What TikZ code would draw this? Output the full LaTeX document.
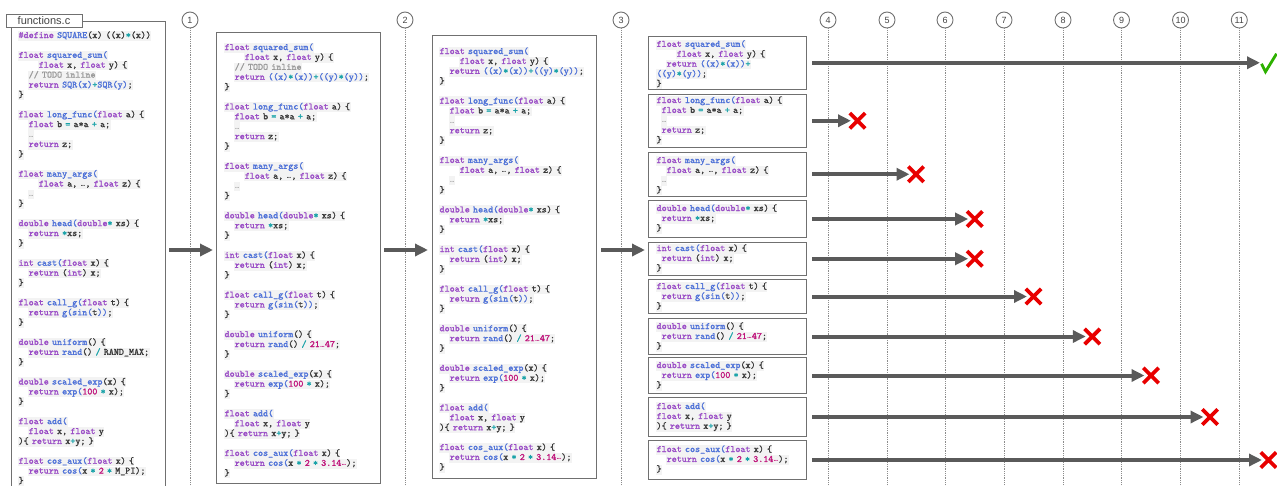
\documentclass[tikz,border=0pt]{standalone}
\usepackage{fontspec}
\setsansfont{Liberation Sans}
\newfontfamily\elfont{DejaVu Sans Mono}
\newfontfamily\codefam{Latin Modern Mono}[FakeBold=1.5]
\usetikzlibrary{arrows.meta}
\definecolor{ckwc}{HTML}{9A4DC6}
\definecolor{cfnc}{HTML}{4F72D8}
\definecolor{copc}{HTML}{17A2A8}
\definecolor{cnumc}{HTML}{C0157C}
\definecolor{ccomc}{HTML}{9A9A9A}
\definecolor{celpc}{HTML}{AAAAAA}
\definecolor{ctxt}{HTML}{3A3A3A}
\definecolor{cbg}{HTML}{F3F3F3}
\definecolor{boxc}{HTML}{707070}
\definecolor{arrc}{HTML}{5A5A5A}
\definecolor{dotc}{HTML}{8C8C8C}
\definecolor{numc}{HTML}{444444}
\definecolor{xred}{HTML}{E80000}
\definecolor{okgreen}{HTML}{2DB000}
\newlength\cw \setlength\cw{5.04pt}
\setlength\fboxsep{0.4pt}
\newcommand\ckw[1]{\textcolor{ckwc}{#1}}
\newcommand\cfn[1]{\textcolor{cfnc}{#1}}
\newcommand\cop[1]{\textcolor{copc}{#1}}
\newcommand\cnum[1]{\textcolor{cnumc}{#1}}
\newcommand\ccom[1]{\textcolor{ccomc}{#1}}
\newcommand\elp{\makebox[\cw][c]{\elfont\fontsize{7}{7}\selectfont …}}
\newcommand\celp{\textcolor{celpc}{\elp}}
\newcommand\cl[2][0]{\hspace*{#1\cw}\strut\colorbox{cbg}{\rule[-2.3pt]{0pt}{8.8pt}#2}\\}
\newcommand\cbl{\strut\\}
\newcommand\codefont{\codefam\fontsize{9.6}{9.9}\selectfont\lineskiplimit=-20pt\frenchspacing\color{ctxt}}
\begin{document}
\begin{tikzpicture}[x=1pt,y=-1pt,
  box/.style={draw=boxc, line width=1pt, inner sep=0pt, anchor=north west},
  code/.style={inner sep=0pt, anchor=north west, text width=200pt, align=left, font=\codefont},
  circ/.style={circle, draw=boxc, line width=0.9pt, minimum size=16pt, inner sep=0pt, font=\sffamily\fontsize{9}{9}\selectfont, text=numc},
  dotl/.style={draw=dotc, line width=0.9pt, dash pattern=on 0.9pt off 0.9pt},
  bigarrow/.style={draw=arrc, line width=4pt, -{Triangle[length=13pt,width=12pt]}},
  xnode/.style={minimum size=15pt, inner sep=0pt},
  xstroke/.style={draw=xred, line width=3.8pt},
  tab/.style={draw=boxc, fill=white, line width=1pt, minimum width=76pt, minimum height=13pt, inner sep=0pt, font=\sffamily\fontsize{11}{11}\selectfont, text=numc}
]
\useasboundingbox (0,0) rectangle (1277,485);
\coordinate (bot) at (0,486);
\coordinate (lvl) at (0,250);

% step circles and dotted lines
\foreach \n/\x in {1/190,2/405,3/621,4/828,5/887,6/945,7/1004,8/1063,9/1121.5,10/1180.5,11/1239.3}{
  \node[circ] (c\n) at (\x,20) {\n};
  \draw[dotl] (c\n.south) -- (c\n.south |- bot);
}

% column 1
\node[box, minimum width=154pt, minimum height=472pt] (b1) at (10.5,20.7) {};
\node[tab] (tab) at (44,20.5) {functions.c};
\node[code] (t1) at (18,37.7-6.93) {%
\cl{\ckw{\#define} \cfn{SQUARE}(x) ((x)\cop{*}(x))}
\cbl
\cl{\ckw{float} \cfn{squared\_sum(}}
\cl[4]{\ckw{float} x, \ckw{float} y) \{}
\cl[2]{\ccom{// TODO inline}}
\cl[2]{\ckw{return} \cfn{SQR(x)}\cop{+}\cfn{SQR(y)};}
\cl{\}}
\cbl
\cl{\ckw{float} \cfn{long\_func(}\ckw{float} a) \{}
\cl[2]{\ckw{float} b \cop{=} a*a \cop{+} a;}
\cl[2]{\celp}
\cl[2]{\ckw{return} z;}
\cl{\}}
\cbl
\cl{\ckw{float} \cfn{many\_args(}}
\cl[4]{\ckw{float} a, \elp, \ckw{float} z) \{}
\cl[2]{\celp}
\cl{\}}
\cbl
\cl{\ckw{double} \cfn{head(}\ckw{double}\cop{*} xs) \{}
\cl[2]{\ckw{return} \cop{*}xs;}
\cl{\}}
\cbl
\cl{\ckw{int} \cfn{cast(}\ckw{float} x) \{}
\cl[2]{\ckw{return} (\ckw{int}) x;}
\cl{\}}
\cbl
\cl{\ckw{float} \cfn{call\_g(}\ckw{float} t) \{}
\cl[2]{\ckw{return} \cfn{g(sin(}t\cfn{))};}
\cl{\}}
\cbl
\cl{\ckw{double} \cfn{uniform}() \{}
\cl[2]{\ckw{return} \cfn{rand}() \cop{/} RAND\_MAX;}
\cl{\}}
\cbl
\cl{\ckw{double} \cfn{scaled\_exp}(x) \{}
\cl[2]{\ckw{return} \cfn{exp(}\cnum{100} \cop{*} x);}
\cl{\}}
\cbl
\cl{\ckw{float} \cfn{add(}}
\cl[2]{\ckw{float} x, \ckw{float} y}
\cl{)\{ \ckw{return} x\cop{+}y; \}}
\cbl
\cl{\ckw{float} \cfn{cos\_aux(}\ckw{float} x) \{}
\cl[2]{\ckw{return} \cfn{cos(}x \cop{*} \cnum{2} \cop{*} M\_PI);}
\cl{\}}%
};

% column 2
\node[box, minimum width=164pt, minimum height=451pt] (b2) at (216,32) {};
\node[code] (t2) at (224,49.7-6.93) {%
\cl{\ckw{float} \cfn{squared\_sum(}}
\cl[4]{\ckw{float} x, \ckw{float} y) \{}
\cl[2]{\ccom{// TODO inline}}
\cl[2]{\ckw{return} \cfn{((x)}\cop{*}\cfn{(x))}\cop{+}\cfn{((y)}\cop{*}\cfn{(y))};}
\cl{\}}
\cbl
\cl{\ckw{float} \cfn{long\_func(}\ckw{float} a) \{}
\cl[2]{\ckw{float} b \cop{=} a*a \cop{+} a;}
\cl[2]{\celp}
\cl[2]{\ckw{return} z;}
\cl{\}}
\cbl
\cl{\ckw{float} \cfn{many\_args(}}
\cl[4]{\ckw{float} a, \elp, \ckw{float} z) \{}
\cl[2]{\celp}
\cl{\}}
\cbl
\cl{\ckw{double} \cfn{head(}\ckw{double}\cop{*} xs) \{}
\cl[2]{\ckw{return} \cop{*}xs;}
\cl{\}}
\cbl
\cl{\ckw{int} \cfn{cast(}\ckw{float} x) \{}
\cl[2]{\ckw{return} (\ckw{int}) x;}
\cl{\}}
\cbl
\cl{\ckw{float} \cfn{call\_g(}\ckw{float} t) \{}
\cl[2]{\ckw{return} \cfn{g(sin(}t\cfn{))};}
\cl{\}}
\cbl
\cl{\ckw{double} \cfn{uniform}() \{}
\cl[2]{\ckw{return} \cfn{rand}() \cop{/} \cnum{21\elp47};}
\cl{\}}
\cbl
\cl{\ckw{double} \cfn{scaled\_exp}(x) \{}
\cl[2]{\ckw{return} \cfn{exp(}\cnum{100} \cop{*} x);}
\cl{\}}
\cbl
\cl{\ckw{float} \cfn{add(}}
\cl[2]{\ckw{float} x, \ckw{float} y}
\cl{)\{ \ckw{return} x\cop{+}y; \}}
\cbl
\cl{\ckw{float} \cfn{cos\_aux(}\ckw{float} x) \{}
\cl[2]{\ckw{return} \cfn{cos(}x \cop{*} \cnum{2} \cop{*} \cnum{3.14\elp});}
\cl{\}}%
};

% column 3
\node[box, minimum width=164pt, minimum height=443pt] (b3) at (432,35) {};
\node[code] (t3) at (439,53.7-6.93) {%
\cl{\ckw{float} \cfn{squared\_sum(}}
\cl[4]{\ckw{float} x, \ckw{float} y) \{}
\cl[2]{\ckw{return} \cfn{((x)}\cop{*}\cfn{(x))}\cop{+}\cfn{((y)}\cop{*}\cfn{(y))};}
\cl{\}}
\cbl
\cl{\ckw{float} \cfn{long\_func(}\ckw{float} a) \{}
\cl[2]{\ckw{float} b \cop{=} a*a \cop{+} a;}
\cl[2]{\celp}
\cl[2]{\ckw{return} z;}
\cl{\}}
\cbl
\cl{\ckw{float} \cfn{many\_args(}}
\cl[4]{\ckw{float} a, \elp, \ckw{float} z) \{}
\cl[2]{\celp}
\cl{\}}
\cbl
\cl{\ckw{double} \cfn{head(}\ckw{double}\cop{*} xs) \{}
\cl[2]{\ckw{return} \cop{*}xs;}
\cl{\}}
\cbl
\cl{\ckw{int} \cfn{cast(}\ckw{float} x) \{}
\cl[2]{\ckw{return} (\ckw{int}) x;}
\cl{\}}
\cbl
\cl{\ckw{float} \cfn{call\_g(}\ckw{float} t) \{}
\cl[2]{\ckw{return} \cfn{g(sin(}t\cfn{))};}
\cl{\}}
\cbl
\cl{\ckw{double} \cfn{uniform}() \{}
\cl[2]{\ckw{return} \cfn{rand}() \cop{/} \cnum{21\elp47};}
\cl{\}}
\cbl
\cl{\ckw{double} \cfn{scaled\_exp}(x) \{}
\cl[2]{\ckw{return} \cfn{exp(}\cnum{100} \cop{*} x);}
\cl{\}}
\cbl
\cl{\ckw{float} \cfn{add(}}
\cl[2]{\ckw{float} x, \ckw{float} y}
\cl{)\{ \ckw{return} x\cop{+}y; \}}
\cbl
\cl{\ckw{float} \cfn{cos\_aux(}\ckw{float} x) \{}
\cl[2]{\ckw{return} \cfn{cos(}x \cop{*} \cnum{2} \cop{*} \cnum{3.14\elp});}
\cl{\}}%
};

% column 4: separate functions
\node[box, minimum width=158pt, minimum height=52.5pt] (sq) at (648,36) {};
\node[code] (tsq) at (656,46.5-6.93) {%
\cl{\ckw{float} \cfn{squared\_sum(}}
\cl[4]{\ckw{float} x, \ckw{float} y) \{}
\cl[2]{\ckw{return} \cfn{((x)}\cop{*}\cfn{(x))}\cop{+}}
\cl{\cfn{((y)}\cop{*}\cfn{(y))};}
\cl{\}}%
};
\node[box, minimum width=158pt, minimum height=53.5pt] (lf) at (648,93.5) {};
\node[code] (tlf) at (656,102.7-6.93) {%
\cl{\ckw{float} \cfn{long\_func(}\ckw{float} a) \{}
\cl[1]{\ckw{float} b \cop{=} a*a \cop{+} a;}
\cl[1]{\celp}
\cl[1]{\ckw{return} z;}
\cl{\}}%
};
\node[box, minimum width=158pt, minimum height=44.5pt] (ma) at (648,151.5) {};
\node[code] (tma) at (656,162.7-6.93) {%
\cl{\ckw{float} \cfn{many\_args(}}
\cl[2]{\ckw{float} a, \elp, \ckw{float} z) \{}
\cl[1]{\celp}
\cl{\}}%
};
\node[box, minimum width=158pt, minimum height=37pt] (hd) at (648,200) {};
\node[code] (thd) at (656,210.7-6.93) {%
\cl{\ckw{double} \cfn{head(}\ckw{double}\cop{*} xs) \{}
\cl[1]{\ckw{return} \cop{*}xs;}
\cl{\}}%
};
\node[box, minimum width=158pt, minimum height=33.5pt] (ca) at (648,241.5) {};
\node[code] (tca) at (656,250.7-6.93) {%
\cl{\ckw{int} \cfn{cast(}\ckw{float} x) \{}
\cl[1]{\ckw{return} (\ckw{int}) x;}
\cl{\}}%
};
\node[box, minimum width=158pt, minimum height=34pt] (cg) at (648,279) {};
\node[code] (tcg) at (656,288.7-6.93) {%
\cl{\ckw{float} \cfn{call\_g(}\ckw{float} t) \{}
\cl[1]{\ckw{return} \cfn{g(sin(}t\cfn{))};}
\cl{\}}%
};
\node[box, minimum width=158pt, minimum height=36pt] (un) at (648,318) {};
\node[code] (tun) at (656,328.7-6.93) {%
\cl{\ckw{double} \cfn{uniform}() \{}
\cl[1]{\ckw{return} \cfn{rand}() \cop{/} \cnum{21\elp47};}
\cl{\}}%
};
\node[box, minimum width=158pt, minimum height=36pt] (se) at (648,357) {};
\node[code] (tse) at (656,367.7-6.93) {%
\cl{\ckw{double} \cfn{scaled\_exp}(x) \{}
\cl[1]{\ckw{return} \cfn{exp(}\cnum{100} \cop{*} x);}
\cl{\}}%
};
\node[box, minimum width=158pt, minimum height=39pt] (ad) at (648,397) {};
\node[code] (tad) at (656,408.7-6.93) {%
\cl{\ckw{float} \cfn{add(}}
\cl{\ckw{float} x, \ckw{float} y}
\cl{)\{ \ckw{return} x\cop{+}y; \}}%
};
\node[box, minimum width=158pt, minimum height=39pt] (co) at (648,440) {};
\node[code] (tco) at (656,451.7-6.93) {%
\cl{\ckw{float} \cfn{cos\_aux(}\ckw{float} x) \{}
\cl[2]{\ckw{return} \cfn{cos(}x \cop{*} \cnum{2} \cop{*} \cnum{3.14\elp});}
\cl{\}}%
};

% arrows between stages
\draw[bigarrow, shorten <=3.5pt, shorten >=3pt] (b1.east |- lvl) -- (b2.west |- lvl);
\draw[bigarrow, shorten <=3pt, shorten >=4pt] (b2.east |- lvl) -- (b3.west |- lvl);
\draw[bigarrow, shorten <=4pt, shorten >=3pt] (b3.east |- lvl) -- (ca.west |- lvl);

% result marks
\foreach \k/\x in {4/857.5,5/916,6/974.7,7/1033.5,8/1092.3,9/1151,10/1210,11/1268.5}{
  \coordinate (m\k) at (\x,0);
}
\node[xnode] (chk) at (sq.east -| m11) {};
\draw[bigarrow, shorten <=5pt, shorten >=8.5pt] (sq.east) -- (chk.center);
\draw[draw=okgreen, line width=2.8pt, line join=miter] ([shift={(-7,1)}]chk.center) -- ([shift={(-3,9)}]chk.center) -- ([shift={(8,-9)}]chk.center);

\foreach \b/\k in {lf/4, ma/5, hd/6, ca/6, cg/7, un/8, se/9, ad/10, co/11}{
  \node[xnode] (x\b) at (\b.east -| m\k) {};
  \draw[bigarrow, shorten <=5pt, shorten >=6.5pt] (\b.east) -- (x\b.center);
  \draw[xstroke] (x\b.north west) -- (x\b.south east) (x\b.north east) -- (x\b.south west);
}
\end{tikzpicture}
\end{document}
